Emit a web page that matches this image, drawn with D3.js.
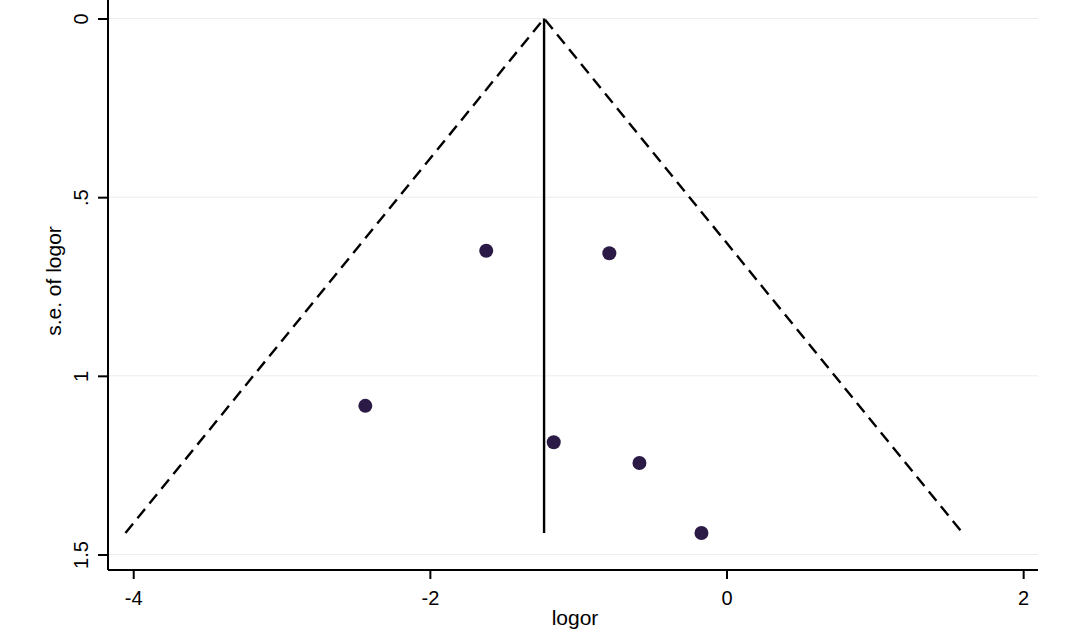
<!DOCTYPE html>
<html>
<head>
<meta charset="utf-8">
<script src="https://cdn.jsdelivr.net/npm/d3@7"></script>
<style>
  body { margin: 0; background: #fff; }
  text { font-family: "Liberation Sans", Arial, sans-serif; fill: #000; }
</style>
</head>
<body>
<script>
// study estimates
var logor = [-1.62, -0.79, -2.435, -1.165, -0.587, -0.169];
var selogor = [0.650, 0.657, 1.084, 1.186, 1.244, 1.440];
var pooled = -1.23;
var seMax = 1.44;
var xTicks = [-4, -2, 0, 2];
var yTicks = [0, 0.5, 1, 1.5];
var yTickLabels = ['0', '.5', '1', '1.5'];

var w = 1070, h = 639;
var plotLeft = 108, plotRight = 1038, plotTop = 18.5, plotBottom = 570;

var svg = d3.select('body')
	.append('svg')
	.attr('width', w)
	.attr('height', h);

var x = d3.scaleLinear()
	.domain([-4.17, 2.1])
	.range([plotLeft, plotRight]);

var y = d3.scaleLinear()
	.domain([0, 1.5])
	.range([plotTop, 554.5]);

// gridlines
svg.selectAll('.grid')
	.data(yTicks)
	.enter()
	.append('line')
	.attr('x1', plotLeft)
	.attr('x2', plotRight)
	.attr('y1', function(d) { return y(d); })
	.attr('y2', function(d) { return y(d); })
	.attr('stroke', '#ececec')
	.attr('stroke-width', 1);

// pseudo 95% limits
var funnel = [
	[pooled - 1.96 * seMax, seMax],
	[pooled, 0],
	[pooled + 1.96 * seMax, seMax]
];

svg.append('path')
	.attr('d', d3.line()
		.x(function(d) { return x(d[0]); })
		.y(function(d) { return y(d[1]); })(funnel))
	.attr('fill', 'none')
	.attr('stroke', '#000')
	.attr('stroke-width', 2.4)
	.attr('stroke-dasharray', '12,7');

svg.append('line')
	.attr('x1', x(pooled))
	.attr('x2', x(pooled))
	.attr('y1', y(0))
	.attr('y2', y(seMax))
	.attr('stroke', '#000')
	.attr('stroke-width', 2.4);

svg.selectAll('circle')
	.data(logor)
	.enter()
	.append('circle')
	.attr('cx', function(d) { return x(d); })
	.attr('cy', function(d, i) { return y(selogor[i]); })
	.attr('r', 7)
	.attr('fill', '#2b1a45');

// axes
var xAxis = svg.append('g')
	.attr('transform', 'translate(0,' + plotBottom + ')')
	.call(d3.axisBottom(x).tickValues(xTicks).tickSize(9).tickPadding(12).tickFormat(d3.format('d')));

var yAxis = svg.append('g')
	.attr('transform', 'translate(' + plotLeft + ',0)')
	.call(d3.axisLeft(y).tickValues(yTicks).tickSize(10).tickPadding(0)
		.tickFormat(function(d, i) { return yTickLabels[i]; }));

xAxis.select('.domain').attr('d', 'M' + plotLeft + ',0H' + plotRight);
yAxis.select('.domain').attr('d', 'M0,0V' + plotBottom);

[xAxis, yAxis].forEach(function(g) {
	g.attr('font-size', 20).attr('font-family', null);
	g.selectAll('path, line').attr('stroke', '#000').attr('stroke-width', 2);
	g.selectAll('text').attr('fill', '#000');
});
xAxis.selectAll('.tick text').text(function(d) { return d < 0 ? '-' + Math.abs(d) : d; });

yAxis.selectAll('.tick text')
	.attr('text-anchor', 'middle')
	.attr('dy', '0.35em')
	.attr('x', 0)
	.attr('transform', 'translate(-27,0) rotate(-90)');

svg.append('text')
	.attr('x', 575)
	.attr('y', 625)
	.attr('text-anchor', 'middle')
	.attr('font-size', 21)
	.text('logor');

svg.append('text')
	.attr('transform', 'translate(61,281) rotate(-90)')
	.attr('text-anchor', 'middle')
	.attr('font-size', 21)
	.text('s.e. of logor');
</script>
</body>
</html>
